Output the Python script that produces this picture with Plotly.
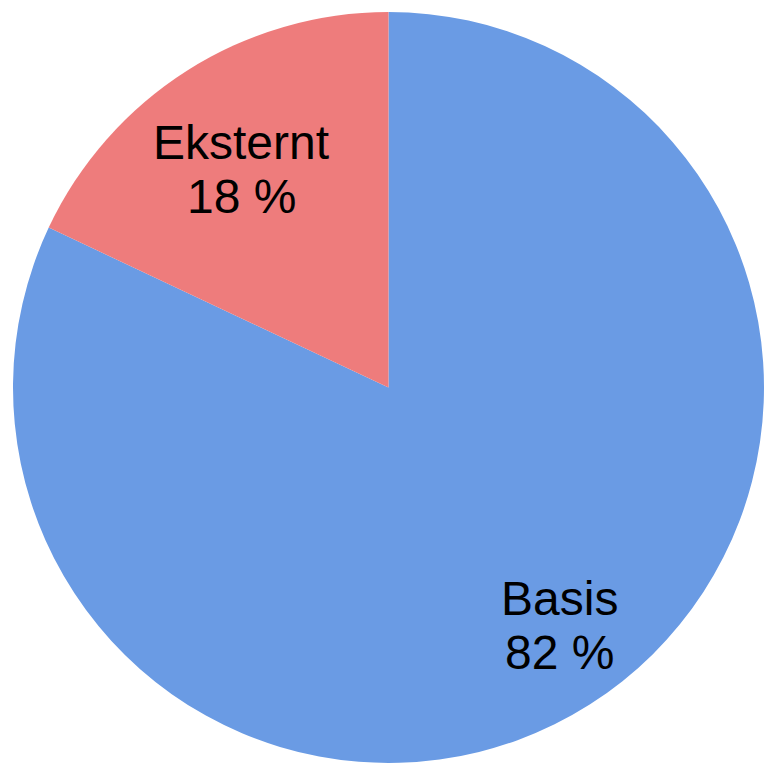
import plotly.graph_objects as go

labels = ["Basis", "Eksternt"]
values = [82, 18]
colors = ["#6A9BE4", "#EE7C7C"]

W, H = 764, 765
OFF = 0  # body margin removed via post_script
ML, MR, MT, MB = 13, 0, 12, 2
PW, PH = W - ML - MR, H - MT - MB

def px(x):
    return (x - OFF - ML) / PW

def py(y):
    return 1 - (y - OFF - MT) / PH

# label text centers in window pixels (text positions only)
label_pos = {"Basis": (559, 598, 652), "Eksternt": (241, 142, 197)}

fig = go.Figure(go.Pie(
    labels=labels,
    values=values,
    sort=False,
    direction="clockwise",
    rotation=0,
    marker=dict(colors=colors, line=dict(width=0)),
    textinfo="none",
    hoverinfo="label+percent",
    showlegend=False,
))

annotations = []
total = sum(values)
for lab, val in zip(labels, values):
    cx, y1, y2 = label_pos[lab]
    pct = round(100 * val / total)
    for txt, yy in ((lab, y1), (f"{pct} %", y2)):
        annotations.append(dict(x=px(cx), y=py(yy), xref="paper", yref="paper",
                                text=txt, showarrow=False, xanchor="center", yanchor="middle",
                                font=dict(family="Liberation Sans, Arial", size=48, color="black")))

fig.update_layout(
    width=W, height=H,
    margin=dict(l=ML, r=MR, t=MT, b=MB, pad=0),
    paper_bgcolor="white",
    plot_bgcolor="white",
    annotations=annotations,
)

fig.write_html(
    "out.html",
    config={"displayModeBar": False},
    post_script="document.body.style.margin='0';document.body.style.overflow='hidden';",
)
